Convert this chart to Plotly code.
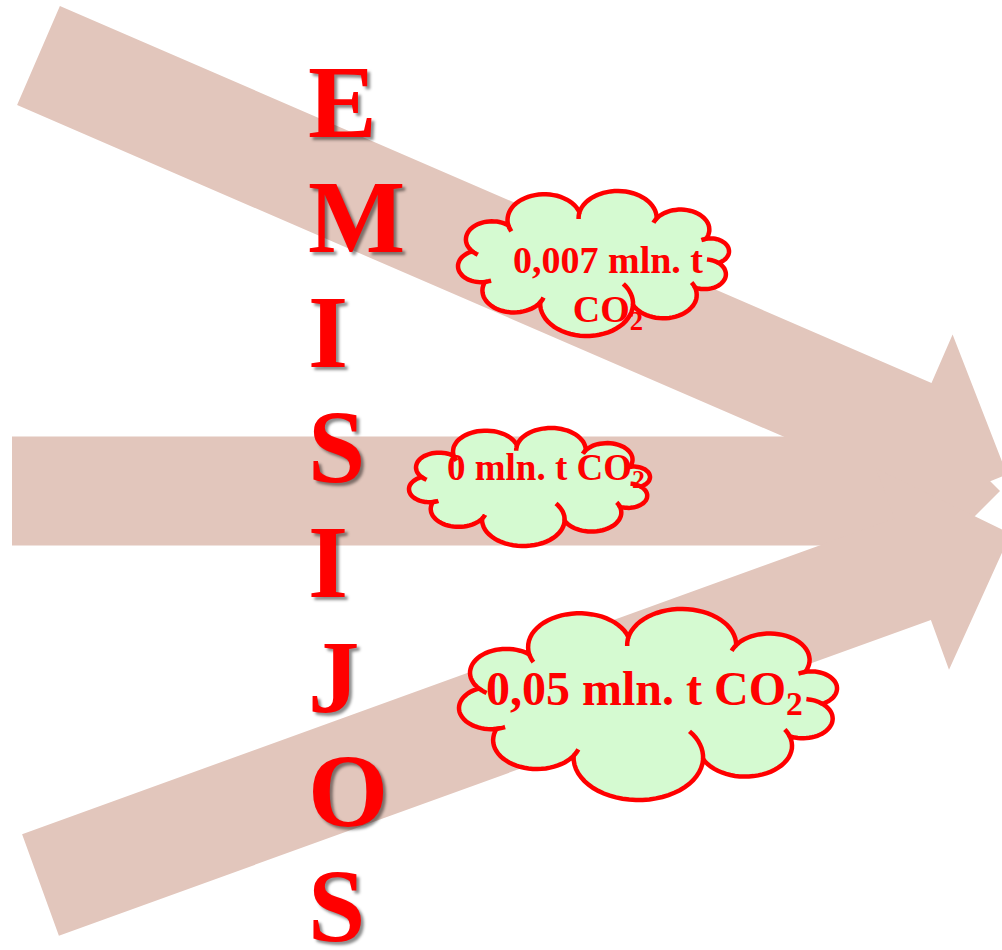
import math
import plotly.graph_objects as go

PAGE_W, PAGE_H = 1002, 950

# ---- content ----
letters = ["E", "M", "I", "S", "I", "J", "O", "S"]
cloud_labels = ["0,007 mln. t<br>CO<sub>2</sub>", "0 mln. t CO<sub>2</sub>", "0,05 mln. t CO<sub>2</sub>"]
cloud_font_sizes = [38, 37, 48]

# ---- layout (pixel geometry) ----
ARROW_COLOR = "#E2C6BC"
CLOUD_FILL = "#D5FAD1"
RED = "#FF0000"

# arrows: start-centre, tip, shaft half width, head half width, head length
arrows = [
    dict(s=(38.5, 55.5), t=(1007, 474.5), w=54, hw=107, hl=105.6),
    dict(s=(12, 491), t=(1000, 491), w=54.5, hw=107, hl=107),
    dict(s=(40.5, 885), t=(1010.7, 533.6), w=54, hw=107, hl=104.4),
]

# cloud bounding boxes (x0, y0, x1, y1)
cloud_boxes = [(458, 191, 729, 336), (409, 428, 650, 546), (459, 609, 837, 800)]
cloud_text_pos = [(608, 287), (546, 470), (644, 692)]

letter_x = 306
letter_top_y = 102
letter_step = 114.9
letter_size = 103


def arrow_path(a):
    sx, sy = a["s"]
    tx, ty = a["t"]
    L = math.hypot(tx - sx, ty - sy)
    dx, dy = (tx - sx) / L, (ty - sy) / L
    nx, ny = -dy, dx
    bx, by = tx - dx * a["hl"], ty - dy * a["hl"]
    w, hw = a["w"], a["hw"]
    pts = [
        (sx + nx * w, sy + ny * w),
        (bx + nx * w, by + ny * w),
        (bx + nx * hw, by + ny * hw),
        (tx, ty),
        (bx - nx * hw, by - ny * hw),
        (bx - nx * w, by - ny * w),
        (sx - nx * w, sy - ny * w),
    ]
    return "M " + " L ".join(f"{x:.1f},{y:.1f}" for x, y in pts) + " Z"


# normalized cloud definition: angles on base ellipse (deg), bulge ratio, inner stub (deg)
BUMP_ANGLES = [190, 226, 263, 300, 334, 4, 36, 72, 116, 152]
BUMP_BULGE = [0.46, 0.48, 0.45, 0.47, 0.45, 0.44, 0.47, 0.50, 0.46, 0.45]
BUMP_STUB = [16, 14, 14, 14, 16, 34, 14, 40, 14, 16]


def cloud_geometry():
    outline = []
    stubs = []
    n = len(BUMP_ANGLES)
    base = [(math.cos(math.radians(a)), 0.55 * math.sin(math.radians(a))) for a in BUMP_ANGLES]
    for i in range(n):
        A = base[i]
        B = base[(i + 1) % n]
        c = math.hypot(B[0] - A[0], B[1] - A[1])
        h = BUMP_BULGE[i] * c
        r = (c * c / 4 + h * h) / (2 * h)
        mx, my = (A[0] + B[0]) / 2, (A[1] + B[1]) / 2
        ux, uy = (B[0] - A[0]) / c, (B[1] - A[1]) / c
        nx, ny = uy, -ux
        if nx * mx + ny * my < 0:
            nx, ny = -nx, -ny
        ox, oy = mx - nx * (r - h), my - ny * (r - h)
        a0 = math.atan2(A[1] - oy, A[0] - ox)
        a1 = math.atan2(B[1] - oy, B[0] - ox)
        ap = math.atan2(ny, nx)
        d2 = (a1 - a0) % (2 * math.pi)
        d1 = (ap - a0) % (2 * math.pi)
        sweep = d2 if d1 < d2 else d2 - 2 * math.pi
        steps = 30
        for k in range(steps + 1):
            ang = a0 + sweep * k / steps
            outline.append((ox + r * math.cos(ang), oy + r * math.sin(ang)))
        ext = math.radians(BUMP_STUB[i]) * (1 if sweep > 0 else -1)
        stub = []
        for k in range(8 + 1):
            ang = a0 - ext + ext * k / 8
            stub.append((ox + r * math.cos(ang), oy + r * math.sin(ang)))
        stubs.append(stub)
    return outline, stubs


def fit(points, box, bb):
    x0, y0, x1, y1 = box
    bx0, by0, bx1, by1 = bb
    return [(x0 + (px - bx0) / (bx1 - bx0) * (x1 - x0), y0 + (py - by0) / (by1 - by0) * (y1 - y0)) for px, py in points]


def to_path(pts, close):
    s = "M " + " L ".join(f"{x:.1f},{y:.1f}" for x, y in pts)
    return s + (" Z" if close else "")


fig = go.Figure()
shapes = []
for a in arrows:
    shapes.append(dict(type="path", path=arrow_path(a), fillcolor=ARROW_COLOR,
                       line=dict(width=0), layer="below", xref="x", yref="y"))

outline, stubs = cloud_geometry()
bb = (min(p[0] for p in outline), min(p[1] for p in outline),
      max(p[0] for p in outline), max(p[1] for p in outline))
for box in cloud_boxes:
    shapes.append(dict(type="path", path=to_path(fit(outline, box, bb), True),
                       fillcolor=CLOUD_FILL, line=dict(color=RED, width=4.5),
                       layer="above", xref="x", yref="y"))
    for st in stubs:
        shapes.append(dict(type="path", path=to_path(fit(st, box, bb), False),
                           line=dict(color=RED, width=4.5), layer="above", xref="x", yref="y"))

annotations = []
for i, ch in enumerate(letters):
    annotations.append(dict(
        x=letter_x, y=letter_top_y + i * letter_step, text=ch, showarrow=False,
        xanchor="left", yanchor="middle", xref="x", yref="y",
        font=dict(family="Liberation Serif, Times New Roman, serif", size=letter_size,
                  color=RED, weight="bold", shadow="3px 3px 3px rgba(0,0,0,0.45)"),
    ))
for label, pos, fs in zip(cloud_labels, cloud_text_pos, cloud_font_sizes):
    annotations.append(dict(
        x=pos[0], y=pos[1], text=label, showarrow=False, xanchor="center", yanchor="middle",
        xref="x", yref="y", align="center",
        font=dict(family="Liberation Serif, Times New Roman, serif", size=fs, color=RED, weight="bold"),
    ))

fig.update_layout(
    width=PAGE_W, height=PAGE_H, margin=dict(l=0, r=0, t=0, b=0),
    paper_bgcolor="white", plot_bgcolor="white", showlegend=False,
    xaxis=dict(range=[0, PAGE_W], visible=False, fixedrange=True),
    yaxis=dict(range=[PAGE_H, 0], visible=False, fixedrange=True),
    shapes=shapes, annotations=annotations,
)
fig.write_html(
    "out.html",
    config={"displayModeBar": False},
    post_script="document.body.style.margin='0';document.body.style.overflow='hidden';",
)
